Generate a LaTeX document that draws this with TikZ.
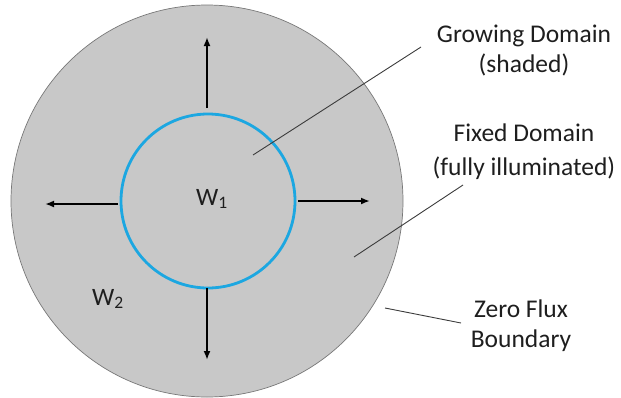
\documentclass[tikz,border=0pt]{standalone}
\usepackage{fontspec}
\setmainfont{Carlito}
\usetikzlibrary{arrows.meta}
\definecolor{fillgray}{RGB}{200,200,200}
\definecolor{edgegray}{RGB}{120,120,120}
\definecolor{ringblue}{RGB}{28,167,225}
\definecolor{txt}{RGB}{30,30,30}
\definecolor{leader}{RGB}{60,60,60}
\begin{document}
\begin{tikzpicture}[x=1pt,y=-1pt,
  lbl/.style={font=\fontsize{25.5}{30}\selectfont, text=txt, align=center, inner sep=0pt},
  wlbl/.style={font=\fontsize{25}{28}\selectfont, text=txt, inner sep=0pt},
  growarrow/.style={-{Latex[length=9pt,width=7pt]}, line width=1.8pt, black},
  leaderline/.style={draw=leader, line width=0.9pt}]
\useasboundingbox (0,0) rectangle (621,397);
\node[circle, draw=edgegray, fill=fillgray, line width=0.7pt, minimum size=392pt, inner sep=0pt] (outer) at (207,201) {};
\node[circle, draw=ringblue, line width=2.8pt, minimum size=174pt, inner sep=0pt] (inner) at (208,201) {};
\coordinate (uS) at (207,108); \coordinate (uE) at (207,37);
\coordinate (dS) at (207,288); \coordinate (dE) at (207,360);
\coordinate (lS) at (118,204); \coordinate (lE) at (45,204);
\coordinate (rS) at (298,201); \coordinate (rE) at (370,201);
\draw[growarrow] (uS) -- (uE);
\draw[growarrow] (dS) -- (dE);
\draw[growarrow] (lS) -- (lE);
\draw[growarrow] (rS) -- (rE);
\node[wlbl] (w1) at (212,199) {W\textsubscript{1}};
\node[wlbl] (w2) at (108,299) {W\textsubscript{2}};
\node[lbl] (growlbl) at (524,50) {Growing Domain\\(shaded)};
\node[lbl, font=\fontsize{25.5}{34}\selectfont] (fixedlbl) at (524,152) {Fixed Domain\\(fully illuminated)};
\node[lbl] (zerolbl) at (521,326) {Zero Flux\\Boundary};
\coordinate (gA) at (421,47); \coordinate (gB) at (253,155);
\coordinate (fA) at (463,185); \coordinate (fB) at (354,257);
\coordinate (zA) at (385,308); \coordinate (zB) at (461,323);
\draw[leaderline] (gA) -- (gB);
\draw[leaderline] (fA) -- (fB);
\draw[leaderline] (zA) -- (zB);
\end{tikzpicture}
\end{document}
